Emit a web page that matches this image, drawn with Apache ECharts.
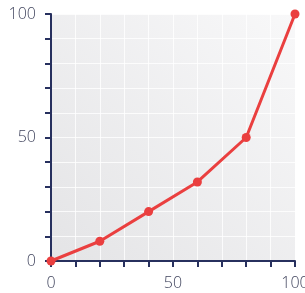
<!DOCTYPE html>
<html><head><meta charset="utf-8">
<script src="https://cdn.jsdelivr.net/npm/echarts@6/dist/echarts.min.js"></script>
<style>html,body{margin:0;padding:0;background:#fff}#c{width:305px;height:293px}</style>
</head><body><div id="c"></div>
<script>
var xValues = [0, 20, 40, 60, 80, 100];
var yValues = [0, 8, 20, 32, 50, 100];
var tickLabels = [0, 50, 100];

var chart = echarts.init(document.getElementById('c'), null, {renderer:'canvas'});
var axisColor = '#27305e';
var labelColor = '#41455e';
function fmt(v){ return tickLabels.indexOf(v) >= 0 ? String(v) : ''; }
chart.setOption({
  animation:false,
  grid:{left:51,right:10,top:14,bottom:32,show:true,borderWidth:0,outerBoundsMode:'none',containLabel:false,
    backgroundColor:new echarts.graphic.LinearGradient(0,1,1,0,[{offset:0,color:'#e4e4e6'},{offset:1,color:'#f8f8f9'}])},
  xAxis:{type:'value',min:0,max:100,interval:10,
    axisLine:{show:true,lineStyle:{color:axisColor,width:2}},
    axisTick:{show:true,length:6,lineStyle:{color:axisColor,width:2}},
    axisLabel:{formatter:fmt,color:labelColor,fontSize:16,fontFamily:'Open Sans',fontWeight:300,margin:14,showMinLabel:true,showMaxLabel:true},
    splitLine:{show:true,lineStyle:{color:'rgba(255,255,255,0.8)',width:1}}},
  yAxis:{type:'value',min:0,max:100,interval:10,
    axisLine:{show:true,lineStyle:{color:axisColor,width:2}},
    axisTick:{show:true,length:6,lineStyle:{color:axisColor,width:2}},
    axisLabel:{formatter:fmt,color:labelColor,fontSize:16,fontFamily:'Open Sans',fontWeight:300,margin:15},
    splitLine:{show:true,lineStyle:{color:'rgba(255,255,255,0.8)',width:1}}},
  series:[{type:'line',data:xValues.map(function(x,i){return [x,yValues[i]];}),
    lineStyle:{color:'#ea3f3f',width:3},itemStyle:{color:'#ea3f3f'},
    symbol:'circle',symbolSize:9,showSymbol:true,clip:false}]
});
</script></body></html>
